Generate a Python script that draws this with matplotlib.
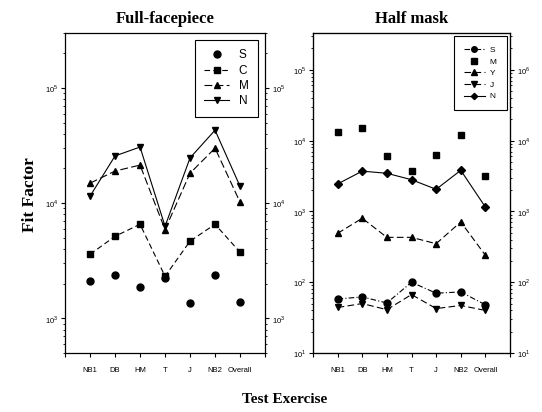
import matplotlib.pyplot as plt
import numpy as np
from matplotlib.ticker import LogLocator, NullFormatter

exercises = ["NB1", "DB", "HM", "T", "J", "NB2", "Overall"]

# Full-facepiece fit factors
ff_S = [2100, 2370, 1860, 2230, 1350, 2370, 1380]
ff_C = [3600, 5160, 6560, 2320, 4680, 6560, 3750]
ff_M = [14900, 19000, 21400, 5900, 18200, 30000, 10200]
ff_N = [11500, 25700, 30700, 6300, 24700, 43000, 14000]

# Half mask fit factors
hm_S = [58, 62, 51, 100, 70, 73, 48]
hm_M = [13000, 15000, 6000, 3700, 6300, 12000, 3200]
hm_Y = [490, 800, 430, 430, 350, 710, 240]
hm_J = [44, 50, 41, 67, 42.5, 47, 40]
hm_N = [2440, 3700, 3450, 2800, 2050, 3800, 1150]

sans = "Liberation Sans"
serif = "Liberation Serif"
plt.rcParams["font.family"] = sans
plt.rcParams["mathtext.fontset"] = "custom"
plt.rcParams["mathtext.rm"] = sans

fig = plt.figure(figsize=(5.42, 4.12), dpi=100)
ax1 = fig.add_axes([0.120, 0.143, 0.369, 0.777])
ax2 = fig.add_axes([0.5775, 0.143, 0.3635, 0.777])

x = np.arange(1, len(exercises) + 1)
mk = dict(color="black", markersize=5, linewidth=0.8)

# full-facepiece
ax1.plot(x, ff_S, linestyle="none", marker="o", label="S", **mk)
ax1.plot(x, ff_C, linestyle=(0, (5, 3)), marker="s", label="C", **mk)
ax1.plot(x, ff_M, linestyle=(0, (7, 3)), marker="^", label="M", **mk)
ax1.plot(x, ff_N, linestyle="-", marker="v", label="N", **mk)

# half mask
ax2.plot(x, hm_S, linestyle=(0, (5, 2, 1, 2)), marker="o", label="S", **mk)
ax2.plot(x, hm_M, linestyle="none", marker="s", label="M", **mk)
ax2.plot(x, hm_Y, linestyle=(0, (6, 3)), marker="^", label="Y", **mk)
ax2.plot(x, hm_J, linestyle=(0, (6, 3)), marker="v", label="J", **mk)
ax2.plot(x, hm_N, linestyle="-", marker="D", markersize=4, color="black", linewidth=0.8, label="N")

def sup(n):
    return "$10^{%d}$" % n

for ax in (ax1, ax2):
    ax.set_yscale("log")
    ax.set_xlim(0, 8)
    ax.set_xticks(range(0, 9))
    ax.set_xticklabels([""] + exercises + [""], fontsize=7.5)
    ax.yaxis.set_minor_locator(LogLocator(base=10, subs=np.arange(2, 10)))
    ax.yaxis.set_minor_formatter(NullFormatter())
    ax.tick_params(axis="both", which="major", direction="out", length=3, width=0.8, labelsize=5.5, pad=2)
    ax.tick_params(axis="y", which="minor", direction="out", length=1.5, width=0.6)
    ax.tick_params(axis="x", which="major", pad=7)
    for s in ax.spines.values():
        s.set_linewidth(0.9)

ax1.set_ylim(500, 3e5)
ax1.set_yticks([1e3, 1e4, 1e5])
ax1.set_yticklabels([sup(3), sup(4), sup(5)])
ax1.tick_params(axis="y", which="both", right=True, labelright=True)

ax2.set_ylim(10, 3.3e5)
ax2.set_yticks([1e1, 1e2, 1e3, 1e4, 1e5])
ax2.set_yticklabels([sup(1), sup(2), sup(3), sup(4), sup(5)])
ax2r = ax2.twinx()
ax2r.set_yscale("log")
ax2r.set_ylim(10, 3.3e5)
ax2r.set_yticks([1e1, 1e2, 1e3, 1e4, 1e5])
ax2r.set_yticklabels([sup(1), sup(2), sup(3), sup(4), sup(6)])
ax2r.yaxis.set_minor_locator(LogLocator(base=10, subs=np.arange(2, 10)))
ax2r.yaxis.set_minor_formatter(NullFormatter())
ax2r.tick_params(axis="y", which="major", direction="out", length=3, width=0.8, labelsize=5.5, pad=2)
ax2r.tick_params(axis="y", which="minor", direction="out", length=1.5, width=0.6)

ax1.set_title("Full-facepiece", fontfamily=serif, fontweight="bold", fontsize=12, pad=7)
ax2.set_title("Half mask", fontfamily=serif, fontweight="bold", fontsize=12, pad=7)

leg1 = ax1.legend(loc="upper right", fontsize=8.5, handlelength=2.1, borderpad=0.8,
                  labelspacing=0.28, handletextpad=0.8, fancybox=False, framealpha=1,
                  edgecolor="black", borderaxespad=0.6)
leg1.get_frame().set_linewidth(0.8)
leg2 = ax2.legend(loc="upper right", fontsize=6, handlelength=2.5, borderpad=1.2,
                  labelspacing=0.45, handletextpad=0.6, fancybox=False, framealpha=1,
                  edgecolor="black", borderaxespad=0.4, markerscale=0.8)
leg2.get_frame().set_linewidth(0.8)

fig.text(0.055, 0.527, "Fit Factor", rotation=90, ha="center", va="center",
         fontfamily=serif, fontweight="bold", fontsize=12.5)
fig.text(0.526, 0.03, "Test Exercise", ha="center", va="center",
         fontfamily=serif, fontweight="bold", fontsize=11)

fig.savefig("out.png", dpi=100)
